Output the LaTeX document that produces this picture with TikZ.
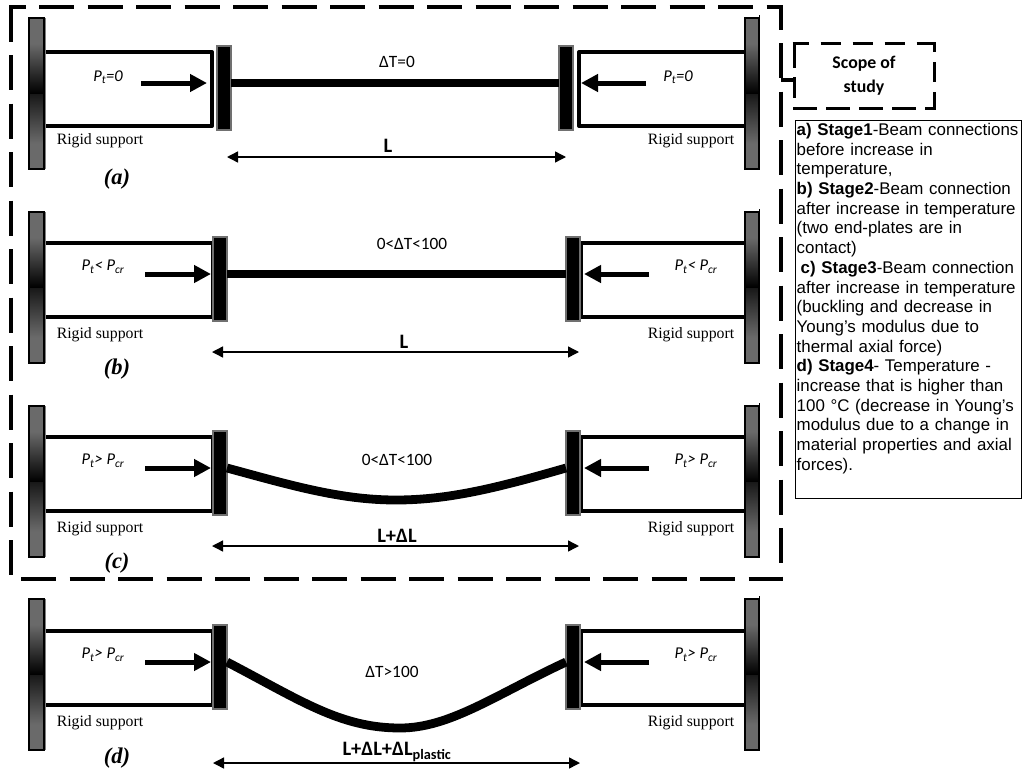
\documentclass[tikz,border=0pt]{standalone}
\usepackage{fontspec}
\setmainfont{Liberation Serif}
\newfontfamily\calfont{Carlito}
\newfontfamily\arialfont{Liberation Sans}
\usetikzlibrary{arrows.meta}
\definecolor{supgray}{HTML}{6A6A6A}
\definecolor{supdark}{HTML}{181818}
\definecolor{platerim}{HTML}{707070}
\pgfdeclareverticalshading{supshade}{100bp}{color(0bp)=(supgray); color(33.5bp)=(supgray); color(49.9bp)=(supdark); color(50bp)=(black); color(66.5bp)=(supgray); color(100bp)=(supgray)}
\tikzset{
  x=1pt,y=-1pt,
  framedash/.style={line width=4pt,dash pattern=on 35pt off 13.5pt},
  framebar/.style={line width=4pt,line join=round},
  plate/.style={fill=black,draw=platerim,line width=1.2pt},
  beam/.style={line width=8.8pt,line cap=butt},
  force/.style={line width=5pt,-{Triangle[length=17pt,width=17pt]}},
  span/.style={line width=1.4pt,{Triangle[length=11pt,width=11pt]}-{Triangle[length=11pt,width=11pt]}},
  rigid/.style={font=\fontsize{15.8}{16}\selectfont},
  stage/.style={font=\fontsize{22.5}{23}\selectfont\bfseries\itshape},
  load/.style={font=\calfont\fontsize{16.5}{17}\selectfont\itshape},
  temp/.style={font=\calfont\fontsize{17.3}{18}\selectfont},
  lng/.style={font=\calfont\fontsize{20.5}{21}\selectfont\bfseries},
}
% #1 name, #2 support top, #3 interior shift, #4 left plate x, #5 right plate x,
% #6 left frame x, #7 right frame x, #8 left arrow tip, #9 right arrow tip
\newcommand{\stagerow}[9]{%
  \pgfmathsetmacro{\ya}{#2}%
  \pgfmathsetmacro{\yb}{#2+151}%
  \pgfmathsetmacro{\yt}{#2-3}%
  \pgfmathsetmacro{\ft}{#2+31+#3}%
  \pgfmathsetmacro{\fb}{#2+105+#3}%
  \pgfmathsetmacro{\pt}{#2+25+#3}%
  \pgfmathsetmacro{\pb}{#2+109+#3}%
  \pgfmathsetmacro{\yc}{#2+62+#3}%
  \pgfmathsetmacro{\plA}{#4+14}%
  \pgfmathsetmacro{\prA}{#5+14}%
  \pgfmathsetmacro{\tailL}{#8-66}%
  \pgfmathsetmacro{\tailR}{#9+65}%
  % frames
  \draw[framebar] (44,\ft) -- (#6,\ft) -- (#6,\fb) -- (44,\fb);
  \draw[framebar] (745,\ft) -- (#7,\ft) -- (#7,\fb) -- (745,\fb);
  % supports
  \shade[shading=supshade] (29,\ya) rectangle (44,\yb);
  \draw[line width=1.1pt] (29,\ya) rectangle (44,\yb);
  \draw[line width=1pt,gray] (45.3,\ya) -- (45.3,\yb);
  \shade[shading=supshade] (745,\ya) rectangle (759,\yb);
  \draw[line width=1.1pt] (745,\ya) rectangle (759,\yb);
  \draw[line width=.5pt] (759.3,\yt) -- (759.3,\ya);
  % plates
  \draw[plate] (#4,\pt) rectangle (\plA,\pb);
  \draw[plate] (#5,\pt) rectangle (\prA,\pb);
  % axial force arrows
  \coordinate (#1tl) at (\tailL,\yc);
  \coordinate (#1hl) at (#8,\yc);
  \coordinate (#1tr) at (\tailR,\yc);
  \coordinate (#1hr) at (#9,\yc);
  \coordinate (#1bl) at (\plA,\yc);
  \coordinate (#1br) at (#5,\yc);
  \draw[force] (#1tl) -- (#1hl);
  \draw[force] (#1tr) -- (#1hr);
}
\begin{document}
\begin{tikzpicture}
\useasboundingbox (0,0) rectangle (1022,774);
% scope frame
\coordinate (fnw) at (11,6.5);
\coordinate (fne) at (781,6.5);
\coordinate (fsw) at (11,575.5);
\coordinate (fse) at (781,579);
\coordinate (bsw) at (21,579);
\coordinate (bse) at (783,579);
\draw[framedash,dash phase=18.5pt] (9,6.5) -- (783,6.5);
\draw[framedash,dash phase=0pt] (fnw) -- (fsw);
\draw[framedash,dash phase=12pt] (fne) -- (fse);
\draw[framedash] (bsw) -- (bse);

\stagerow{a}{18}{3}{217}{559}{212}{579}{207}{581}
\stagerow{b}{212}{0}{213}{566}{213}{581}{211}{584}
\stagerow{c}{406}{0}{213}{566}{213}{581}{211}{584}
\stagerow{d}{599}{1}{213}{566}{213}{581}{211}{584}

% beams
\draw[beam] (abl) -- (abr);
\draw[beam] (bbl) -- (bbr);
\draw[beam] (cbl) .. controls (290,485) and (340,500) .. (396,500) .. controls (450,500) and (500,487) .. (cbr);
\draw[beam] (dbl) .. controls (300,700) and (340,728) .. (400,728) .. controls (450,728) and (495,695) .. (dbr);

% span arrows
\coordinate (asl) at (227,157); \coordinate (asr) at (566,157);
\coordinate (bsl) at (212,352); \coordinate (bsr) at (579,352);
\coordinate (csl) at (212,546); \coordinate (csr) at (579,546);
\coordinate (dsl) at (213,763); \coordinate (dsr) at (580,763);
\draw[span] (asl) -- (asr);
\draw[span] (bsl) -- (bsr);
\draw[span] (csl) -- (csr);
\draw[span] (dsl) -- (dsr);

% rigid support labels
\foreach \n/\y in {a/141,b/335,c/529,d/723}{
  \node[rigid] (rl\n) at (100,\y) {Rigid support};
  \node[rigid] (rr\n) at (691,\y) {Rigid support};
}
% stage letters
\node[stage] (sa) at (117,179) {(a)};
\node[stage] (sb) at (117,369) {(b)};
\node[stage] (sc) at (117,563) {(c)};
\node[stage] (sd) at (117,758) {(d)};

% load labels
\node[load] (pal) at (108,77) {P\textsubscript{t}=0};
\node[load] (par) at (678,77) {P\textsubscript{t}=0};
\node[load] (pbl) at (103,267) {P\textsubscript{t}< P\textsubscript{cr}};
\node[load] (pbr) at (696,267) {P\textsubscript{t}< P\textsubscript{cr}};
\node[load] (pcl) at (103,461) {P\textsubscript{t}> P\textsubscript{cr}};
\node[load] (pcr) at (696,461) {P\textsubscript{t}> P\textsubscript{cr}};
\node[load] (pdl) at (103,655) {P\textsubscript{t}> P\textsubscript{cr}};
\node[load] (pdr) at (696,655) {P\textsubscript{t}> P\textsubscript{cr}};

% temperature labels
\node[temp] (ta) at (397,62) {ΔT=0};
\node[temp] (tb) at (412,244) {0<ΔT<100};
\node[temp] (tc) at (397,460) {0<ΔT<100};
\node[temp] (td) at (392,672) {ΔT>100};

% length labels
\node[lng] (la) at (388,146) {L};
\node[lng] (lb) at (404,342) {L};
\node[lng] (lc) at (397,536) {L+ΔL};
\node[lng] (ld) at (397,752) {L+ΔL+ΔL\textsubscript{plastic}};

% scope box
\coordinate (snw) at (794,43);
\coordinate (sne) at (934,43);
\coordinate (sse) at (934,108);
\coordinate (ssw) at (794,108);
\draw[line width=3pt,dash pattern=on 20pt off 12pt,dash phase=4pt] ([xshift=-1.5pt]snw) -- ([xshift=1.5pt]sne);
\draw[line width=3pt,dash pattern=on 20pt off 10pt,dash phase=11pt] (sne) -- (sse);
\draw[line width=3pt,dash pattern=on 24pt off 9pt] ([xshift=-1pt]ssw) -- ([xshift=1.5pt]sse);
\draw[line width=3pt,dash pattern=on 25pt off 9pt on 21pt off 9pt] (snw) -- (ssw);
\coordinate (tie) at (781,80);
\coordinate (tiee) at (794,80);
\draw[line width=3.5pt] (tie) -- (tiee);
\node[font=\calfont\fontsize{17.8}{24}\selectfont\bfseries,align=center] (scope) at (864,76) {Scope of\\study};

% caption box
\node[draw,line width=1pt,anchor=north west,minimum width=226pt,minimum height=378pt,inner sep=0pt] (capbox) at (795,120) {};
\node[anchor=north west,inner sep=0pt,text width=226pt,align=left,font=\arialfont\fontsize{16.9}{19.7}\selectfont] (captext) at ([xshift=1.5pt,yshift=-3pt]capbox.north west) {%
\textbf{a) Stage1}-Beam connections\\
before increase in\\
temperature,\\
\textbf{b) Stage2}-Beam connection\\
after increase in temperature\\
(two end-plates are in\\
contact)\\
\hspace*{4pt}\textbf{c) Stage3}-Beam connection\\
after increase in temperature\\
(buckling and decrease in\\
Young’s modulus due to\\
thermal axial force)\\
\textbf{d) Stage4}- Temperature -\\
increase that is higher than\\
100 °C (decrease in Young’s\\
modulus due to a change in\\
material properties and axial\\
forces).};
\end{tikzpicture}
\end{document}
